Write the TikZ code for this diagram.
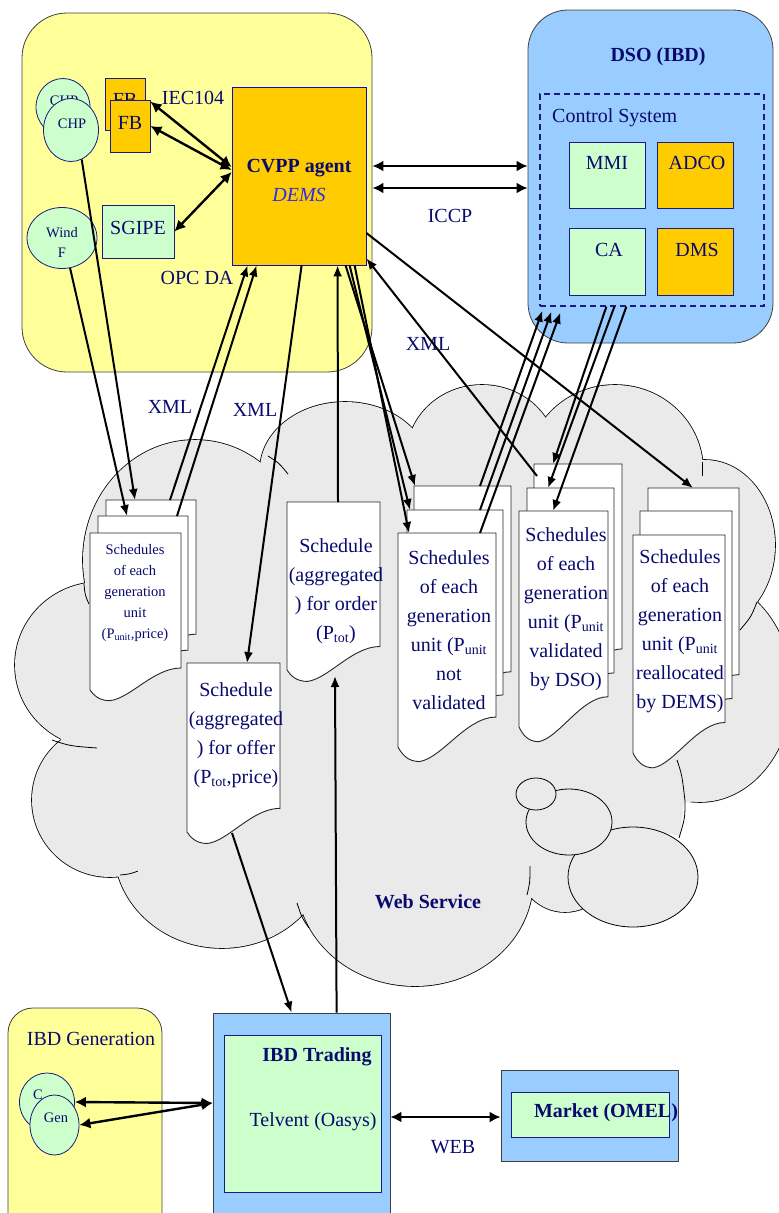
\documentclass[tikz,border=0pt]{standalone}
\usepackage{fontspec}
\setmainfont{Liberation Serif}
\usetikzlibrary{arrows.meta,%
                shapes.geometric}

\definecolor{panelyellow}{HTML}{FFFF99}
\definecolor{panelblue}{HTML}{99CCFF}
\definecolor{boxorange}{HTML}{FFCC00}
\definecolor{boxgreen}{HTML}{CCFFCC}
\definecolor{cloudgrey}{HTML}{EAEAEA}
\definecolor{navytext}{HTML}{0A0A6E}
\definecolor{navyline}{HTML}{1A1A80}
\definecolor{demsblue}{HTML}{2B2BF0}

% schedule sheet with a wavy lower edge: name, left, top, width, height
\newcommand{\SchedPage}[5]{%
  \pgfmathsetmacro{\pgRight}{#2+#4}%
  \pgfmathsetmacro{\pgLow}{#3+#5}%
  \pgfmathsetmacro{\pgHigh}{#3+0.86*#5}%
  \pgfmathsetmacro{\pgDip}{#3+1.068*#5}%
  \pgfmathsetmacro{\pgDipB}{#3+1.051*#5}%
  \pgfmathsetmacro{\pgDipC}{#3+1.034*#5}%
  \coordinate (#1) at (#2,#3);
  \draw[page] (#2,#3) -- (\pgRight,#3) -- (\pgRight,\pgHigh)
    .. controls (#2+0.7*#4,\pgHigh) and (#2+0.45*#4,\pgDipB) .. (#2+0.22*#4,\pgDip)
    .. controls (#2+0.1*#4,\pgDip) and (#2+0.04*#4,\pgDipC) .. (#2,\pgLow) -- cycle;
}

\def\cloudbumps{195/560/112/120, 345/470/85/68, 482/455/75/70,
  615/470/88/85, 705/545/70/85, 700/690/92/112, 415/880/118/106,
  222/848/108/100, 110/800/78/77, 100/665/85/83, 565/862/48/50}

\begin{document}
\begin{tikzpicture}[x=1pt,y=-1pt]
  \tikzstyle{txt}=[text=navytext,inner sep=0pt,font=\fontsize{20}{24}\selectfont]
  \tikzstyle{boldtxt}=[txt,font=\fontsize{20}{24}\selectfont\bfseries]
  \tikzstyle{smalltxt}=[txt,align=center,font=\fontsize{14.5}{20}\selectfont]
  \tikzstyle{schedtxt}=[txt,align=center,font=\fontsize{20}{29}\selectfont]
  \tikzstyle{panel}=[draw=black!75,line width=0.8pt]
  \tikzstyle{unitbox}=[draw=navyline,line width=0.8pt]
  \tikzstyle{unitround}=[ellipse,draw=navyline,fill=boxgreen,line width=0.8pt]
  \tikzstyle{page}=[draw=black!85,fill=white,line width=0.9pt]
  \tikzstyle{link}=[line width=2pt,-{Latex[length=11pt,width=9pt]}]
  \tikzstyle{biarrow}=[line width=2.4pt,{Latex[length=11pt,width=11pt]}-{Latex[length=11pt,width=11pt]}]

  \useasboundingbox (0,0) rectangle (779,1213);
  \clip (0,0) rectangle (779,1213);

  % web service cloud
  \foreach \cx/\cy/\rx/\ry in \cloudbumps
    \draw[line width=1.6pt] (\cx,\cy) ellipse [x radius=\rx, y radius=\ry];
  \foreach \cx/\cy/\rx/\ry in \cloudbumps
    \fill[cloudgrey] (\cx,\cy) ellipse [x radius=\rx, y radius=\ry];
  \fill[cloudgrey] (85,595) -- (275,455) -- (415,440) -- (540,425) -- (702,465)
    -- (755,600) -- (700,800) -- (684,803) -- (680,836) -- (640,828) -- (585,905)
    -- (528,895) -- (300,912) -- (125,872) -- (60,745) -- cycle;
  \draw[line width=0.8pt] (685,801) .. controls (685,818) .. (679,838);
  % loose ends of the bumps
  \draw[line width=0.8pt] (84,584) .. controls (85,595) .. (89,604);
  \draw[line width=0.8pt] (268,456) .. controls (279,463) .. (288,474);
  \draw[line width=0.8pt] (52,740) .. controls (70,746) .. (97,748);
  \draw[line width=0.8pt] (120,875) .. controls (130,874) .. (138,871);
  \draw[line width=0.8pt] (309,928) .. controls (302,918) .. (297,903);
  \draw[line width=0.8pt] (527,895) .. controls (530,882) .. (530,866);
  \draw[line width=0.8pt] (702,462) -- (702,476);
  \draw[line width=0.8pt] (757,602) .. controls (751,617) .. (740,630);
  \draw[line width=0.8pt] (677,760) .. controls (682,775) .. (685,801);
  \filldraw[fill=cloudgrey,line width=0.8pt] (633,877) ellipse [x radius=65, y radius=50];
  \filldraw[fill=cloudgrey,line width=0.8pt] (569,822) ellipse [x radius=43, y radius=33];
  \filldraw[fill=cloudgrey,line width=0.8pt] (536,794) ellipse [x radius=20, y radius=16];
  \node[boldtxt] (websvc) at (428,902) {Web Service};

  % aggregator site
  \node[panel,fill=panelyellow,rounded corners=45pt,minimum width=350pt,minimum height=359pt] (site) at (197,192.5) {};
  \node[unitbox,fill=boxorange,draw=blue!55!navyline,minimum width=134pt,minimum height=178pt] (cvpp) at (299,176) {};
  \node[txt,align=center,font=\fontsize{20}{29}\selectfont] (cvpptxt) at (299,180) {\textbf{CVPP agent}\\\textcolor{demsblue}{\itshape DEMS}};
  \node[unitbox,fill=boxorange,minimum width=40pt,minimum height=52pt] (fb1) at (125,104) {};
  \node[txt] (fb1txt) at (125,100) {FB};
  \node[unitbox,fill=boxorange,minimum width=40pt,minimum height=52pt] (fb2) at (130,126) {};
  \node[txt] (fb2txt) at (130,123) {FB};
  \node[unitround,minimum width=54pt,minimum height=57pt] (chp1) at (63,107) {};
  \node[smalltxt] (chp1txt) at (64,101) {CHP};
  \node[unitround,minimum width=55pt,minimum height=63pt] (chp2) at (71,130) {};
  \node[smalltxt] (chp2txt) at (72,124) {CHP};
  \node[unitround,minimum width=70pt,minimum height=61pt] (wind) at (62,238) {};
  \node[smalltxt] (windtxt) at (62,242) {Wind\\F};
  \node[unitbox,fill=boxgreen,minimum width=72pt,minimum height=53pt] (sgipe) at (138,231.5) {};
  \node[txt] (sgipetxt) at (138,228) {SGIPE};
  \node[txt] (iec) at (193,98) {IEC104};
  \node[txt] (opc) at (197,278) {OPC DA};

  % distribution system operator
  \node[panel,fill=panelblue,rounded corners=40pt,minimum width=245pt,minimum height=333pt] (dso) at (650.5,176.5) {};
  \node[boldtxt] (dsotxt) at (658,57) {DSO (IBD)};
  \node[draw=navyline,line width=1.3pt,dash pattern=on 6pt off 4pt,minimum width=224pt,minimum height=212pt] (ctrl) at (652,200) {};
  \node[txt,anchor=west] (ctrltxt) at (552,118) {Control System};
  \node[unitbox,fill=boxgreen,minimum width=76pt,minimum height=66pt] (mmi) at (607.5,175) {};
  \node[txt] (mmitxt) at (607,163) {MMI};
  \node[unitbox,fill=boxorange,minimum width=76pt,minimum height=66pt] (adco) at (695,175) {};
  \node[txt] (adcotxt) at (697,163) {ADCO};
  \node[unitbox,fill=boxgreen,minimum width=76pt,minimum height=67pt] (ca) at (607.5,261.5) {};
  \node[txt] (catxt) at (609,250) {CA};
  \node[unitbox,fill=boxorange,minimum width=76pt,minimum height=67pt] (dms) at (695,261.5) {};
  \node[txt] (dmstxt) at (697,250) {DMS};
  \node[txt] (iccp) at (450,216) {ICCP};

  % generation, trading and market
  \node[panel,fill=panelyellow,rounded corners=25pt,minimum width=154pt,minimum height=260pt] (gen) at (85,1138) {};
  \node[txt] (gentxt) at (91,1039) {IBD Generation};
  \node[unitround,minimum width=55pt,minimum height=58pt] (gen1) at (47,1102) {};
  \node[smalltxt] (gen1txt) at (38,1095) {C};
  \node[unitround,minimum width=49pt,minimum height=60pt] (gen2) at (54.5,1125) {};
  \node[smalltxt] (gen2txt) at (56,1118) {Gen};
  \node[panel,fill=panelblue,minimum width=177pt,minimum height=230pt] (trading) at (301.5,1128) {};
  \node[unitbox,fill=boxgreen,minimum width=157pt,minimum height=157pt] (tradesys) at (302.5,1113.5) {};
  \node[boldtxt] (tradetxt) at (317,1057) {IBD Trading};
  \node[txt] (oasys) at (313,1122) {Telvent (Oasys)};
  \node[panel,fill=panelblue,minimum width=177pt,minimum height=91pt] (market) at (589.5,1115.5) {};
  \node[unitbox,fill=boxgreen,minimum width=158pt,minimum height=45pt] (omel) at (590,1114.5) {};
  \node[boldtxt] (omeltxt) at (606,1113) {Market (OMEL)};
  \node[txt] (web) at (453,1147) {WEB};

  % schedules
  \SchedPage{g1a}{106}{500}{90}{156}
  \SchedPage{g1b}{98}{516}{90}{156}
  \SchedPage{g1c}{90}{533}{91}{157}
  \SchedPage{g2}{187}{663}{93}{169}
  \SchedPage{g3}{287}{502}{93}{168}
  \SchedPage{g4a}{414}{486}{97}{216}
  \SchedPage{g4b}{407}{510}{96}{215}
  \SchedPage{g4c}{398}{533}{98}{214}
  \SchedPage{g5a}{534}{464}{88}{215}
  \SchedPage{g5b}{527}{488}{87}{215}
  \SchedPage{g5c}{519}{511}{89}{216}
  \SchedPage{g6a}{648}{488}{91}{217}
  \SchedPage{g6b}{640}{511}{92}{218}
  \SchedPage{g6c}{633}{535}{92}{218}
  \node[smalltxt,font=\fontsize{14.5}{21}\selectfont] (g1txt) at (135,593) {Schedules\\of each\\generation\\unit\\(P\textsubscript{unit},price)};
  \node[schedtxt] (g2txt) at (236,735) {Schedule\\(aggregated\\) for offer\\(P\textsubscript{tot},price)};
  \node[schedtxt] (g3txt) at (336,591) {Schedule\\(aggregated\\) for order\\(P\textsubscript{tot})};
  \node[schedtxt] (g4txt) at (449,630) {Schedules\\of each\\generation\\unit (P\textsubscript{unit}\\not\\validated};
  \node[schedtxt] (g5txt) at (566,609) {Schedules\\of each\\generation\\unit (P\textsubscript{unit}\\validated\\by DSO)};
  \node[schedtxt] (g6txt) at (680,631) {Schedules\\of each\\generation\\unit (P\textsubscript{unit}\\reallocated\\by DEMS)};
  \node[txt] (xml1) at (170,407) {XML};
  \node[txt] (xml2) at (255,410) {XML};
  \node[txt] (xml3) at (428,344) {XML};

  % field links
  \draw[biarrow] ([yshift=-2pt]fb2.north east) -- ([yshift=9pt]cvpp.west);
  \draw[biarrow] (fb2.east) -- ([yshift=6pt]cvpp.west);
  \draw[biarrow] ([yshift=4pt]cvpp.west) -- (sgipe.east);
  \draw[biarrow] ([yshift=26.5pt]site.east) -- ([yshift=10.5pt]dso.west);
  \draw[biarrow] ([yshift=4.5pt]site.east) -- ([yshift=-11.5pt]dso.west);
  \draw[link] (chp2.-70) -- ([xshift=29pt]g1a);
  \draw[link] (wind.-75) -- ([xshift=29pt]g1b);
  \draw[link] ([xshift=64pt]g1a) -- ([xshift=16pt]cvpp.south west);
  \draw[link] ([xshift=79pt]g1b) -- ([xshift=25pt]cvpp.south west);
  % offer and order
  \draw[link] ([xshift=70pt]cvpp.south west) -- ([xshift=60pt]g2);
  \draw[link] ([xshift=51pt]g3) -- ([xshift=106pt]cvpp.south west);
  \draw[link] ([xshift=45pt,yshift=-170pt]g2) -- ([xshift=79pt]trading.north west);
  \draw[link] ([xshift=124pt]trading.north west) -- ([xshift=48pt,yshift=-174pt]g3);
  % validation by the DSO
  \draw[link] ([xshift=114pt]cvpp.south west) -- ([xshift=1pt]g4a);
  \draw[link] ([xshift=118pt]cvpp.south west) -- ([xshift=3pt]g4b);
  \draw[link] ([xshift=123pt]cvpp.south west) -- ([xshift=11pt]g4c);
  \draw[link] ([xshift=66pt]g4a) -- ([xshift=3pt,yshift=-4pt]ctrl.south west);
  \draw[link] ([xshift=73pt]g4b) -- ([xshift=12pt,yshift=-5pt]ctrl.south west);
  \draw[link] ([xshift=82pt]g4c) -- ([xshift=21pt,yshift=-6pt]ctrl.south west);
  \draw[link] ([xshift=67pt]ctrl.south west) -- ([xshift=19pt]g5a);
  \draw[link] ([xshift=75pt]ctrl.south west) -- ([xshift=21pt]g5b);
  \draw[link] ([xshift=87pt]ctrl.south west) -- ([xshift=34pt]g5c);
  \draw[link] ([xshift=3pt,yshift=-12pt]g5a) -- ([yshift=7pt]cvpp.south east);
  \draw[link] ([yshift=-57pt]cvpp.east) -- ([xshift=45pt]g6a);
  % bottom links
  \draw[biarrow] (gen1.east) -- ([yshift=25pt]trading.west);
  \draw[biarrow] (gen2.east) -- ([yshift=25pt]trading.west);
  \draw[biarrow] ([yshift=11pt]trading.east) -- ([yshift=-1.5pt]market.west);
\end{tikzpicture}
\end{document}
